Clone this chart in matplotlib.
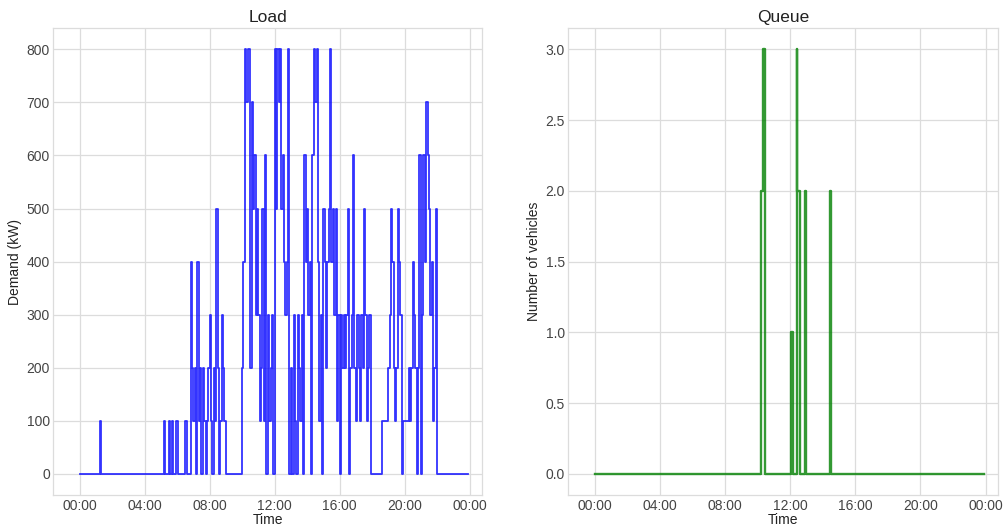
import matplotlib
matplotlib.use("Agg")
import matplotlib.pyplot as plt
import matplotlib.dates as mdates
import pandas as pd
import numpy as np

# ---- data -------------------------------------------------------------
# Load demand (kW), 5-minute resolution, one row per hour (00:00 .. 23:55)
load_kw = [
    0, 0, 0, 0, 0, 0, 0, 0, 0, 0, 0, 0,                     # 00
    0, 0, 0, 100, 0, 0, 0, 0, 0, 0, 0, 0,                   # 01
    0, 0, 0, 0, 0, 0, 0, 0, 0, 0, 0, 0,                     # 02
    0, 0, 0, 0, 0, 0, 0, 0, 0, 0, 0, 0,                     # 03
    0, 0, 0, 0, 0, 0, 0, 0, 0, 0, 0, 0,                     # 04
    0, 0, 100, 0, 0, 0, 100, 0, 100, 0, 0, 100,             # 05
    100, 0, 0, 0, 0, 0, 100, 0, 0, 0, 400, 200,             # 06
    100, 200, 0, 400, 100, 200, 0, 200, 100, 0, 100, 200,   # 07
    300, 100, 0, 200, 100, 500, 200, 0, 100, 300, 200, 100, # 08
    0, 0, 0, 0, 0, 0, 0, 0, 0, 0, 0, 0,                     # 09
    200, 400, 800, 700, 800, 800, 200, 700, 500, 600, 300, 500,  # 10
    300, 100, 200, 500, 100, 600, 0, 300, 100, 200, 300, 0,      # 11
    800, 500, 800, 700, 800, 500, 600, 400, 300, 400, 800, 0,    # 12
    200, 0, 300, 100, 0, 300, 200, 100, 300, 0, 600, 400,        # 13
    500, 300, 400, 0, 600, 800, 700, 800, 400, 100, 300, 0,      # 14
    500, 400, 200, 400, 500, 800, 400, 500, 300, 500, 100, 300,  # 15
    0, 300, 200, 300, 200, 300, 500, 0, 200, 300, 600, 200,      # 16
    100, 300, 200, 100, 300, 200, 500, 300, 100, 200, 300, 0,    # 17
    0, 0, 0, 0, 0, 0, 0, 100, 100, 100, 100, 100,                # 18
    200, 300, 500, 400, 200, 100, 200, 500, 400, 300, 0, 100,    # 19
    100, 100, 100, 200, 100, 200, 400, 300, 200, 0, 200, 600,    # 20
    0, 300, 600, 400, 700, 600, 500, 300, 400, 100, 200, 500,    # 21
    0, 0, 0, 0, 0, 0, 0, 0, 0, 0, 0, 0,                     # 22
    0, 0, 0, 0, 0, 0, 0, 0, 0, 0, 0, 0,                     # 23
]

# Queue length (vehicles), as change points
queue_times = ["00:00", "10:13", "10:20", "10:27", "12:04", "12:10",
               "12:24", "12:26", "12:36", "12:56", "12:57",
               "14:25", "14:28", "14:31", "23:55"]
queue_values = [0, 2, 3, 0, 1, 0, 3, 2, 0, 2, 0, 1, 2, 0, 0]

day = "2024-01-01"
load_index = pd.date_range(f"{day} 00:00", periods=len(load_kw), freq="5min")
queue_index = pd.to_datetime([f"{day} {t}" for t in queue_times])

# ---- style ------------------------------------------------------------
plt.rcParams["font.family"] = ["Liberation Sans", "DejaVu Sans"]
text_color = "#444444"
grid_color = "#dcdcdc"

fig = plt.figure(figsize=(10.06, 5.29), dpi=100)
ax1 = fig.add_axes([0.053, 0.064, 0.426, 0.883])
ax2 = fig.add_axes([0.565, 0.064, 0.427, 0.883])

t0 = pd.Timestamp(f"{day} 00:00")
t1 = t0 + pd.Timedelta(hours=24)
xlim = (t0 - pd.Timedelta(hours=1.62), t1 + pd.Timedelta(hours=0.76))

ax1.step(load_index, load_kw, where="post", color="blue", alpha=0.8, lw=1.3)
ax2.step(queue_index, queue_values, where="post", color="green", alpha=0.8, lw=1.7)

for ax, title, ylabel in [(ax1, "Load", "Demand (kW)"),
                          (ax2, "Queue", "Number of vehicles")]:
    ax.set_facecolor("white")
    ax.set_xlim(xlim)
    ax.xaxis.set_major_locator(mdates.HourLocator(byhour=[0, 4, 8, 12, 16, 20]))
    ax.xaxis.set_major_formatter(mdates.DateFormatter("%H:%M"))
    ax.grid(True, color=grid_color, lw=0.9)
    ax.set_axisbelow(True)
    for s in ax.spines.values():
        s.set_color(grid_color)
        s.set_linewidth(0.9)
    ax.tick_params(length=0, labelsize=10, colors=text_color, pad=2.5)
    ax.set_title(title, fontsize=12.5, color="#222222", pad=4)
    ax.set_xlabel("Time", fontsize=10, color="#222222", labelpad=0.5)
    ax.set_ylabel(ylabel, fontsize=10, color="#222222", labelpad=3)

ax1.set_ylim(-40, 840)
ax1.set_yticks(np.arange(0, 801, 100))
ax2.set_ylim(-0.15, 3.15)
ax2.set_yticks(np.arange(0, 3.01, 0.5))
ax2.yaxis.set_major_formatter(matplotlib.ticker.FormatStrFormatter("%.1f"))

fig.savefig("out.png", dpi=100, facecolor="white")
